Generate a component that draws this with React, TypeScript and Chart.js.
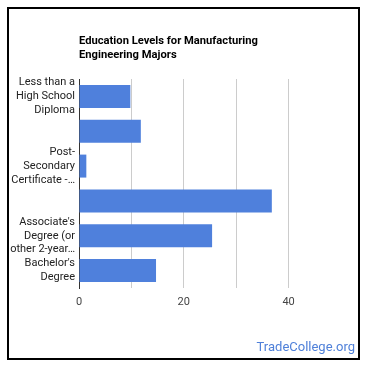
import React, { useEffect, useRef } from "react";
import { Chart, registerables } from "chart.js";

Chart.register(...registerables);

const categories = [
  "Less than a High School Diploma",
  "High School Diploma",
  "Post-Secondary Certificate - Awarded for training completed after high school (for example, in agriculture or natural resources, computer services, personal or culinary services, engineering technologies, healthcare, construction trades, mechanic and repair technologies, or precision production)",
  "Some College Courses",
  "Associate's Degree (or other 2-year degree)",
  "Bachelor's Degree",
];
const values = [9.8, 11.8, 1.4, 36.8, 25.4, 14.7];
const tickLabels: (string[] | null)[] = [
  ["Less than a", "High School", "Diploma"],
  null,
  ["Post-", "Secondary", "Certificate -…"],
  null,
  ["Associate's", "Degree (or", "other 2-year…"],
  ["Bachelor's", "Degree"],
];
const xTickValues = [0, 20, 40];
const titleLines = ["Education Levels for Manufacturing", "Engineering Majors"];

const FONT = "Roboto, 'Noto Sans', Arial, sans-serif";

export default function App() {
  const ref = useRef<HTMLCanvasElement | null>(null);
  useEffect(() => {
    if (!ref.current) return;
    const titlePlugin = {
      id: "leftTitle",
      afterDraw(chart: any) {
        const { ctx, chartArea } = chart;
        ctx.save();
        ctx.font = `bold 11.2px ${FONT}`;
        ctx.fillStyle = "#000";
        ctx.textBaseline = "middle";
        ctx.textAlign = "left";
        titleLines.forEach((l, i) => ctx.fillText(l, chartArea.left, 41.5 + i * 14));
        ctx.restore();
      },
    };
    const chart = new Chart(ref.current, {
      type: "bar",
      data: {
        labels: categories,
        datasets: [
          {
            data: values,
            backgroundColor: "#4f80dc",
            borderWidth: 0,
            categoryPercentage: 0.66,
            barPercentage: 1,
          },
        ],
      },
      options: {
        indexAxis: "y",
        animation: false,
        responsive: false,
        maintainAspectRatio: false,
        layout: { padding: { top: 79, right: 29, left: 0, bottom: 0 } },
        plugins: { legend: { display: false }, tooltip: { enabled: false }, title: { display: false } },
        scales: {
          x: {
            min: 0,
            max: 50,
            ticks: {
              stepSize: 10,
              padding: 8,
              color: "#444",
              font: { family: FONT, size: 11 },
              callback: (v: any) => (xTickValues.includes(Number(v)) ? String(v) : ""),
            },
            grid: {
              drawTicks: false,
              color: (c: any) => (c.tick && (c.tick.value === 0 || c.tick.value === 50) ? "rgba(0,0,0,0)" : "#cccccc"),
            },
            border: { display: false },
            afterFit: (s: any) => {
              s.height = 82;
            },
          },
          y: {
            ticks: {
              padding: 4,
              color: "#222",
              font: { family: FONT, size: 11, lineHeight: 1.25 },
              autoSkip: false,
              callback: (_v: any, i: number) => tickLabels[i] ?? "",
            },
            grid: { display: false, drawTicks: false },
            border: { display: true, color: "#333", width: 1 },
            afterFit: (s: any) => {
              s.width = 79;
            },
          },
        },
      },
      plugins: [titlePlugin],
    });
    return () => chart.destroy();
  }, []);
  return (
    <div style={{ position: "absolute", left: 0, top: 0, width: 370, height: 370, background: "#fff" }}>
      <canvas ref={ref} width={370} height={370} style={{ position: "absolute", left: 0, top: 0, width: 370, height: 370 }} />
      <div
        style={{
          position: "absolute",
          left: 7,
          top: 7,
          width: 353,
          height: 353,
          boxSizing: "border-box",
          border: "2px solid #000",
          pointerEvents: "none",
        }}
      />
      <div
        style={{
          position: "absolute",
          right: 15,
          top: 339,
          fontFamily: FONT,
          fontSize: 13,
          lineHeight: "16px",
          color: "#4f80d9",
        }}
      >
        TradeCollege.org
      </div>
    </div>
  );
}
